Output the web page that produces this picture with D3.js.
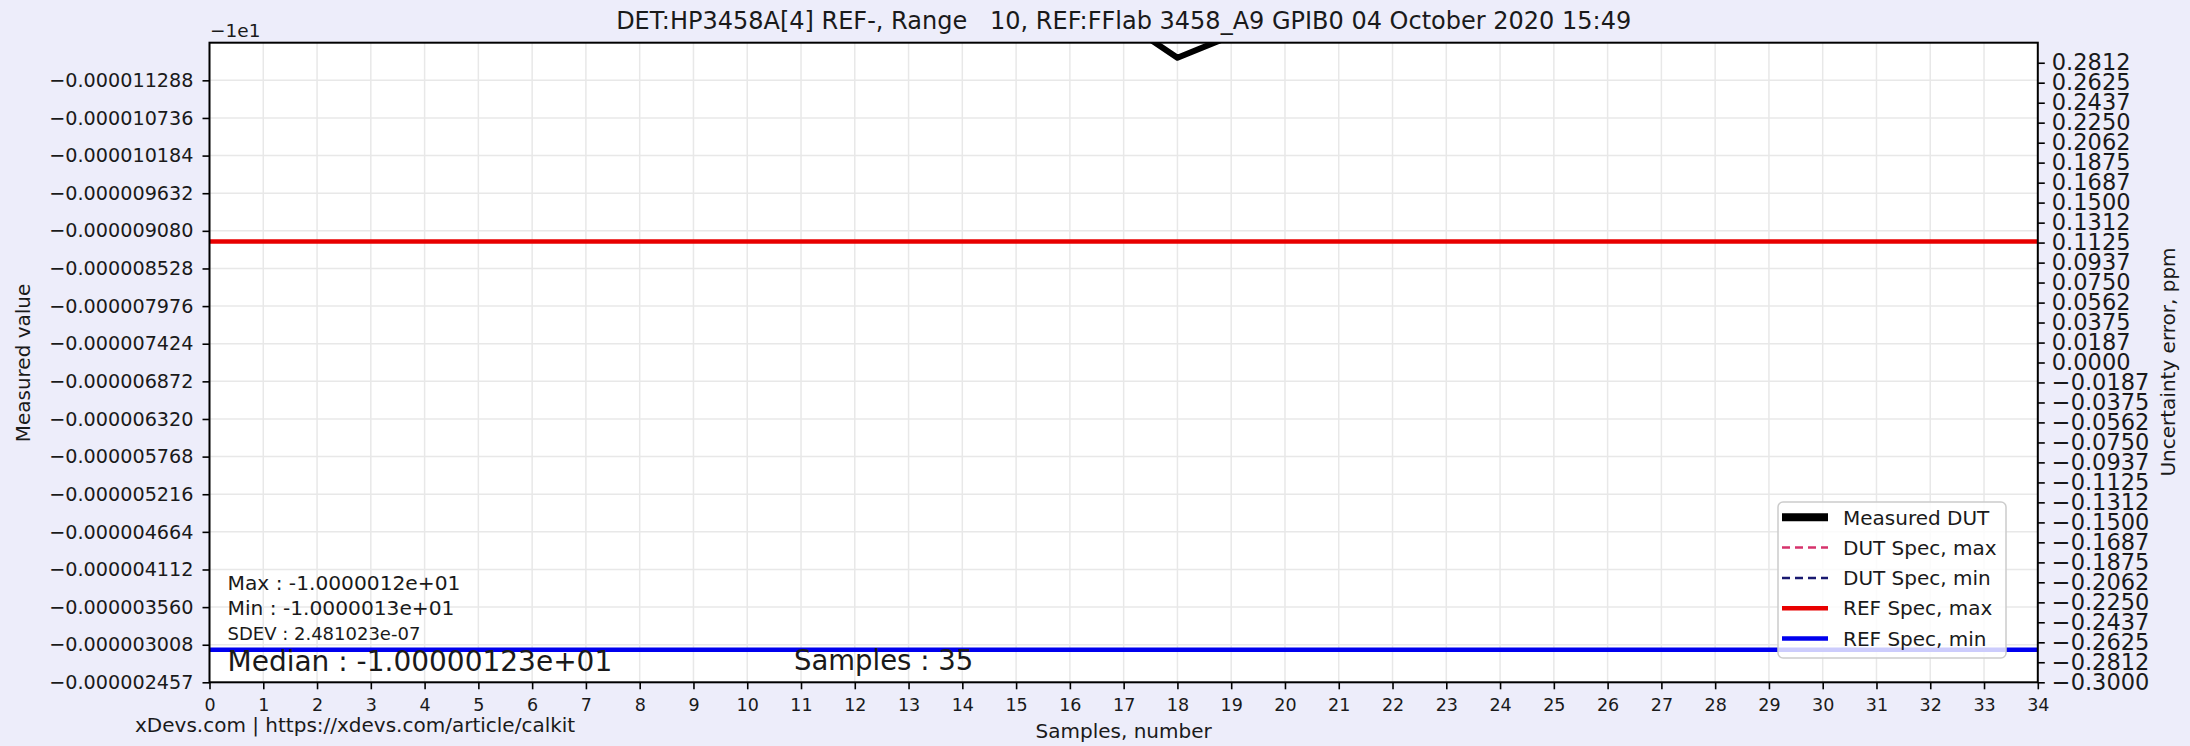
<!DOCTYPE html>
<html><head><meta charset="utf-8">
<script src="https://cdn.jsdelivr.net/npm/d3@7"></script>
<style>
html,body{margin:0;padding:0;background:#ededfa;}
svg{display:block;}
text{font-family:"DejaVu Sans",sans-serif;fill:#1a1a1a;}
</style></head><body>
<svg id="c" width="2190" height="746"></svg>
<script>
// ---------------- data ----------------
const sampleIdx = [0,1,2,3,4,5,6,7,8,9,10,11,12,13,14,15,16,17,18,19,20,21,22,23,24,25,26,27,28,29,30,31,32,33,34];
const measured = [-10.00001231,-10.00001228,-10.00001240,-10.00001235,-10.00001222,-10.00001230,-10.00001245,
  -10.00001233,-10.00001227,-10.00001238,-10.00001219,-10.00001252,-10.00001229,-10.00001236,-10.00001224,
  -10.00001241,-10.00001230,-10.00001215,-10.00001162,-10.00001194,-10.00001226,-10.00001234,-10.00001247,
  -10.00001232,-10.00001221,-10.00001239,-10.00001230,-10.00001255,-10.00001228,-10.00001237,-10.00001225,
  -10.00001243,-10.00001231,-10.00001262,-10.00001233];
const refSpecMax = [-10.000008924, -10.000008924];
const refSpecMin = [-10.000002935, -10.000002935];
const dutSpecMax = [-10.000020, -10.000020];
const dutSpecMin = [-9.999995, -9.999995];
const yOffset = -10;
const yDomain = [-10.000002457, -10.00001184];
const uncDomain = [-0.3, 0.3];
const xTickLabels = ["0","1","2","3","4","5","6","7","8","9","10","11","12","13","14","15","16","17","18","19","20","21","22","23","24","25","26","27","28","29","30","31","32","33","34"];
const leftTickLabels = ["−0.000011288","−0.000010736","−0.000010184","−0.000009632","−0.000009080","−0.000008528",
  "−0.000007976","−0.000007424","−0.000006872","−0.000006320","−0.000005768","−0.000005216","−0.000004664",
  "−0.000004112","−0.000003560","−0.000003008","−0.000002457"];
const rightTickLabels = ["0.2812","0.2625","0.2437","0.2250","0.2062","0.1875","0.1687","0.1500","0.1312","0.1125",
  "0.0937","0.0750","0.0562","0.0375","0.0187","0.0000","−0.0187","−0.0375","−0.0562","−0.0750","−0.0937","−0.1125",
  "−0.1312","−0.1500","−0.1687","−0.1875","−0.2062","−0.2250","−0.2437","−0.2625","−0.2812","−0.3000"];
const statLines = ["Max : -1.0000012e+01","Min : -1.0000013e+01","SDEV : 2.481023e-07","Median : -1.00000123e+01","Samples : 35"];
const legendLabels = ["Measured DUT","DUT Spec, max","DUT Spec, min","REF Spec, max","REF Spec, min"];
const titleText = "DET:HP3458A[4] REF-, Range\u00a0\u00a0\u00a010, REF:FFlab 3458_A9 GPIB0 04 October 2020 15:49";

// ---------------- layout ----------------
const P = {l:209.5, r:2037.8, t:42.7, b:682.3};
const svg = d3.select("#c");
svg.append("rect").attr("width",2190).attr("height",746).attr("fill","#ededfa");
svg.append("rect").attr("x",P.l).attr("y",P.t).attr("width",P.r-P.l).attr("height",P.b-P.t).attr("fill","#ffffff");

const x = d3.scaleLinear().domain([0,34]).range([P.l,P.r]);
const y = d3.scaleLinear().domain(yDomain).range([P.b,P.t]);
const yR = d3.scaleLinear().domain(uncDomain).range([P.b,P.t]);
const num = s => +s.replace("−","-");
const xTicks = xTickLabels.map(num);
const yTicks = leftTickLabels.map(s => yOffset + num(s));
const rTicks = rightTickLabels.map(num);

// grid
const grid = svg.append("g").attr("stroke","#e8e8e8").attr("stroke-width",1.5);
grid.selectAll("line.gx").data(xTicks).join("line").attr("x1",d=>x(d)).attr("x2",d=>x(d)).attr("y1",P.t).attr("y2",P.b);
grid.selectAll("line.gy").data(yTicks).join("line").attr("y1",d=>y(d)).attr("y2",d=>y(d)).attr("x1",P.l).attr("x2",P.r);

// clip
svg.append("clipPath").attr("id","clip").append("rect").attr("x",P.l).attr("y",P.t).attr("width",P.r-P.l).attr("height",P.b-P.t);
const plot = svg.append("g").attr("clip-path","url(#clip)");
const hline = (vals, color, w, dash) => {
  plot.append("path").datum(vals)
    .attr("d", d3.line().x((d,i)=>x(i===0?0:34)).y(d=>y(d)))
    .attr("fill","none").attr("stroke",color).attr("stroke-width",w)
    .attr("stroke-dasharray",dash||null);
};
hline(dutSpecMax,"#d6336c",2.5,"8,5");
hline(dutSpecMin,"#191970",2.5,"8,5");
hline(refSpecMax,"#e80000",4.5);
hline(refSpecMin,"#0000ee",4.5);
plot.append("path").datum(measured)
  .attr("d", d3.line().x((d,i)=>x(sampleIdx[i])).y(d=>y(d)))
  .attr("fill","none").attr("stroke","#000").attr("stroke-width",6).attr("stroke-linejoin","round");

// axes
const styleAxis = (g, fs) => {
  g.select(".domain").remove();
  g.selectAll(".tick line").attr("stroke","#000").attr("stroke-width",1.6);
  g.selectAll(".tick text").attr("font-size",fs).attr("fill","#1a1a1a").attr("font-family","DejaVu Sans");
};
svg.append("g").attr("transform",`translate(${P.l},0)`)
  .call(d3.axisLeft(y).tickValues(yTicks).tickFormat((d,i)=>leftTickLabels[i]).tickSize(7).tickPadding(9))
  .call(g=>styleAxis(g,19.2));
svg.append("g").attr("transform",`translate(0,${P.b})`)
  .call(d3.axisBottom(x).tickValues(xTicks).tickFormat((d,i)=>xTickLabels[i]).tickSize(7).tickPadding(9))
  .call(g=>styleAxis(g,17.5));
svg.append("g").attr("transform",`translate(${P.r},0)`)
  .call(d3.axisRight(yR).tickValues(rTicks).tickFormat((d,i)=>rightTickLabels[i]).tickSize(7).tickPadding(7))
  .call(g=>styleAxis(g,22.5));

// frame
svg.append("rect").attr("x",P.l).attr("y",P.t).attr("width",P.r-P.l).attr("height",P.b-P.t)
  .attr("fill","none").attr("stroke","#000").attr("stroke-width",2);

// stats text
const stats = svg.append("g");
stats.append("text").attr("x",227.5).attr("y",589.5).attr("font-size",20.2).text(statLines[0]);
stats.append("text").attr("x",227.5).attr("y",614.5).attr("font-size",20.2).text(statLines[1]);
stats.append("text").attr("x",227.5).attr("y",639.5).attr("font-size",18).text(statLines[2]);
stats.append("text").attr("x",227.5).attr("y",670.5).attr("font-size",28).text(statLines[3]);
stats.append("text").attr("x",794).attr("y",670).attr("font-size",27.5).text(statLines[4]);

// legend
const L = {x:1778, y:502, w:228, h:156};
const leg = svg.append("g");
leg.append("rect").attr("x",L.x).attr("y",L.y).attr("width",L.w).attr("height",L.h).attr("rx",5)
  .attr("fill","#ffffff").attr("fill-opacity",0.8).attr("stroke","#cccccc").attr("stroke-width",1.5);
const legStyle = [
  {c:"#000000",w:8,d:null},{c:"#d6336c",w:2.5,d:"8,5"},{c:"#191970",w:2.5,d:"8,5"},
  {c:"#e80000",w:4.5,d:null},{c:"#0000ee",w:4.5,d:null}];
legendLabels.forEach((lab,i)=>{
  const cy = 517.3 + i*30.3;
  leg.append("line").attr("x1",1782).attr("x2",1828).attr("y1",cy).attr("y2",cy)
    .attr("stroke",legStyle[i].c).attr("stroke-width",legStyle[i].w).attr("stroke-dasharray",legStyle[i].d);
  leg.append("text").attr("x",1843).attr("y",cy).attr("dy","0.36em").attr("font-size",20).text(lab);
});

// titles & labels
svg.append("text").attr("x",(P.l+P.r)/2).attr("y",29).attr("text-anchor","middle").attr("font-size",24).text(titleText);
svg.append("text").attr("x",210).attr("y",37).attr("font-size",18.5).text("−1e1");
svg.append("text").attr("x",(P.l+P.r)/2).attr("y",738).attr("text-anchor","middle").attr("font-size",20).text("Samples, number");
svg.append("text").attr("x",135).attr("y",731.5).attr("font-size",20).text("xDevs.com | https://xdevs.com/article/calkit");
svg.append("text").attr("transform","translate(30,363) rotate(-90)").attr("text-anchor","middle").attr("font-size",20).text("Measured value");
svg.append("text").attr("transform","translate(2175,362) rotate(-90)").attr("text-anchor","middle").attr("font-size",20).text("Uncertainty error, ppm");
</script>
</body></html>
